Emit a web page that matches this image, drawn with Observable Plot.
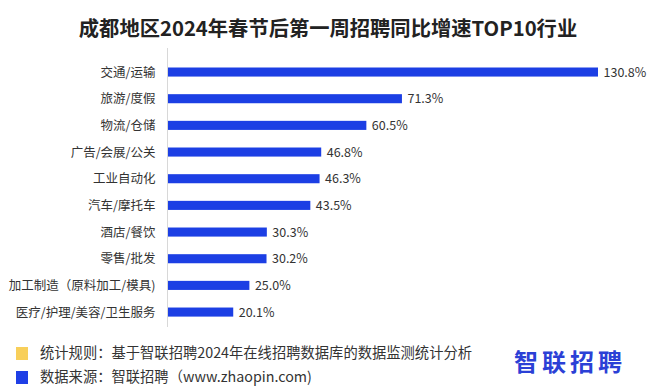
<!DOCTYPE html>
<html>
<head>
<meta charset="utf-8">
<script src="https://cdn.jsdelivr.net/npm/d3@7"></script>
<script src="https://cdn.jsdelivr.net/npm/@observablehq/plot@0.6"></script>
<style>
  html, body { margin: 0; padding: 0; background: #fff; }
  body { width: 656px; height: 388px; position: relative; overflow: hidden;
         font-family: "Noto Sans CJK SC", "Noto Sans", sans-serif; color: #333; }
  #title { position: absolute; left: 0; top: 13px; width: 656px; text-align: center;
           font-size: 20.3px; font-weight: bold; color: #222; line-height: 28px; }
  #chart { position: absolute; left: 0; top: 45px; }
  .note { position: absolute; left: 16px; font-size: 14.3px; color: #333; line-height: 16px; white-space: nowrap; }
  .note i { display: inline-block; width: 12px; height: 13px; vertical-align: -2px; margin-right: 12px; }
  #logo { position: absolute; left: 514px; top: 346px; font-size: 24px; font-weight: bold;
          color: #2b40d6; letter-spacing: 4px; line-height: 30px; }
</style>
</head>
<body>
<div id="title">成都地区2024年春节后第一周招聘同比增速TOP10行业</div>
<div id="chart"></div>
<div class="note" style="top:344px"><i style="background:#f8cf5a"></i>统计规则：基于智联招聘2024年在线招聘数据库的数据监测统计分析</div>
<div class="note" style="top:368px"><i style="background:#1f3fe6"></i>数据来源：智联招聘（www.zhaopin.com)</div>
<div id="logo">智联招聘</div>
<script>
const industries = ["交通/运输", "旅游/度假", "物流/仓储", "广告/会展/公关", "工业自动化",
  "汽车/摩托车", "酒店/餐饮", "零售/批发", "加工制造（原料加工/模具)", "医疗/护理/美容/卫生服务"];
const growth = [130.8, 71.3, 60.5, 46.8, 46.3, 43.5, 30.3, 30.2, 25.0, 20.1];

const data = industries.map((name, i) => ({name, value: growth[i]}));

const chart = Plot.plot({
  width: 656,
  height: 290,
  marginLeft: 167,
  marginRight: 58,
  marginTop: 3,
  marginBottom: 8,
  style: {fontFamily: "'Noto Sans CJK SC', sans-serif", fontSize: "12px", color: "#333", background: "transparent"},
  x: {domain: [0, 130.8], axis: null},
  y: {domain: industries, range: [4.9, 289.2], padding: 0.66, round: false, label: null, tickSize: 0, tickPadding: 12},
  marks: [
    Plot.barX(data, {x: "value", y: "name", fill: "#1c3fe4"}),
    Plot.ruleX([0], {stroke: "#d8d8d8", strokeWidth: 1}),
    Plot.text(data, {x: "value", y: "name", text: d => d.value.toFixed(1) + "%",
      textAnchor: "start", dx: 5, fill: "#333", fontSize: 12.5}),
    Plot.axisY({tickSize: 0, tickPadding: 12, label: null, fontSize: 12.5})
  ]
});
document.getElementById("chart").appendChild(chart);
</script>
</body>
</html>
